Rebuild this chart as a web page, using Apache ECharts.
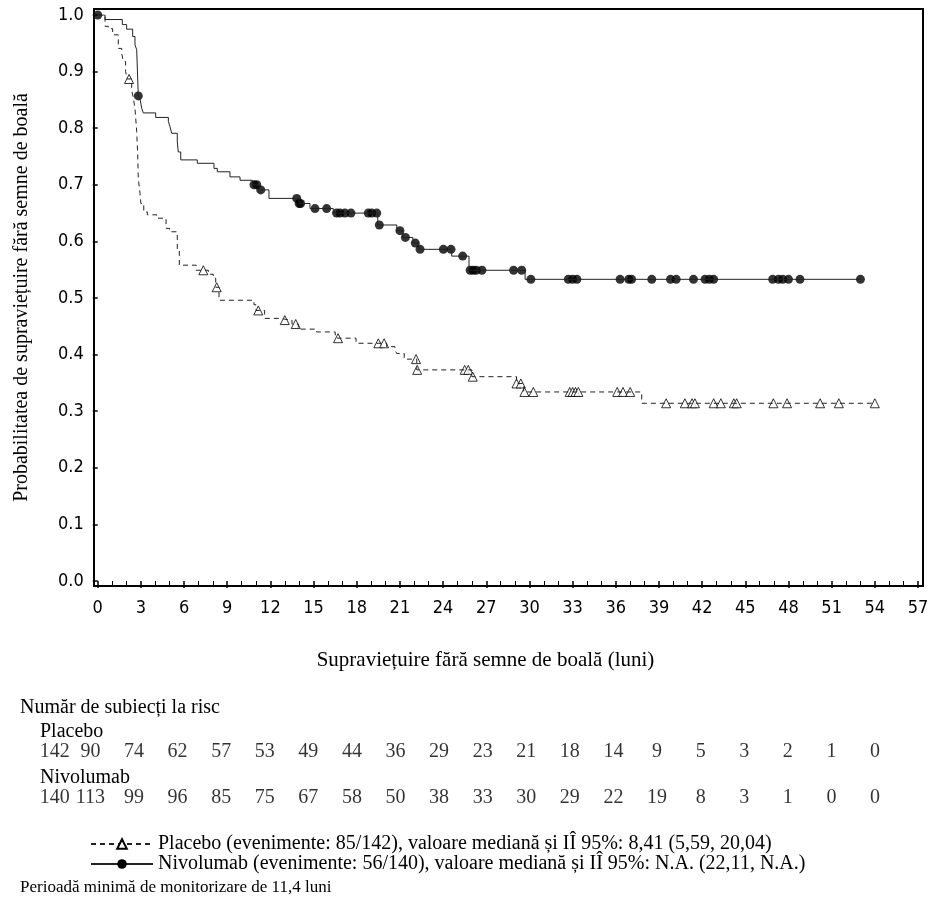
<!DOCTYPE html>
<html>
<head>
<meta charset="utf-8">
<script src="https://cdn.jsdelivr.net/npm/echarts@6/dist/echarts.min.js"></script>
<style>
html, body { margin: 0; padding: 0; background: #fff; }
#chart { width: 946px; height: 910px; }
</style>
</head>
<body>
<div id="chart"></div>
<script>
// Kaplan-Meier steps: [months, probability after the event]
const nivo_steps = [[0,1],[0.51,0.992],[1.71,0.983],[2.01,0.975],[2.43,0.962],[2.59,0.947],[2.71,0.939],[2.82,0.857],[2.95,0.851],[3.06,0.835],[3.17,0.827],[4.03,0.819],[4.91,0.812],[5.02,0.803],[5.14,0.791],[5.53,0.776],[5.60,0.758],[5.77,0.744],[6.92,0.738],[8.08,0.729],[8.31,0.723],[9.19,0.714],[9.89,0.708],[10.75,0.700],[11.2,0.691],[11.9,0.676],[14.0,0.667],[14.75,0.658],[16.37,0.650],[19.46,0.629],[20.78,0.619],[21.2,0.607],[21.9,0.597],[22.3,0.586],[24.6,0.574],[25.8,0.549],[29.7,0.533],[53.0,0.533]]
const placebo_steps = [[0,1],[0.51,0.980],[0.74,0.976],[1.04,0.965],[1.43,0.941],[1.67,0.932],[1.78,0.918],[1.94,0.900],[2.05,0.887],[2.36,0.867],[2.48,0.853],[2.59,0.835],[2.71,0.794],[2.78,0.753],[2.82,0.711],[2.90,0.694],[2.94,0.685],[3.00,0.667],[3.2,0.652],[3.45,0.647],[4.1,0.641],[4.75,0.623],[5.0,0.617],[5.53,0.585],[5.67,0.558],[6.84,0.549],[7.69,0.542],[8.03,0.535],[8.2,0.519],[8.43,0.496],[10.86,0.488],[11.0,0.478],[11.6,0.464],[12.6,0.461],[13.5,0.454],[13.94,0.445],[15.2,0.440],[16.5,0.435],[16.65,0.429],[17.95,0.420],[20.08,0.414],[20.66,0.408],[20.78,0.402],[21.3,0.392],[22.17,0.373],[26.0,0.361],[29.1,0.349],[29.6,0.334],[37.8,0.314],[54.0,0.314]]

// censored subjects
const nivo_censor = [[0,1],[2.82,0.857],[10.86,0.700],[11.05,0.700],[11.33,0.691],[13.83,0.676],[14.0,0.667],[14.1,0.667],[15.1,0.658],[15.91,0.658],[16.6,0.650],[16.84,0.650],[17.18,0.650],[17.6,0.650],[18.8,0.650],[19.04,0.650],[19.39,0.650],[19.57,0.629],[21.0,0.619],[21.38,0.607],[22.07,0.597],[22.4,0.586],[24.02,0.586],[24.55,0.586],[25.36,0.574],[25.88,0.549],[26.09,0.549],[26.3,0.549],[26.7,0.549],[28.9,0.549],[29.46,0.549],[30.1,0.533],[32.7,0.533],[33.0,0.533],[33.3,0.533],[36.3,0.533],[36.9,0.533],[37.1,0.533],[38.5,0.533],[39.8,0.533],[40.2,0.533],[41.4,0.533],[42.2,0.533],[42.5,0.533],[42.8,0.533],[46.9,0.533],[47.3,0.533],[47.6,0.533],[48.0,0.533],[48.8,0.533],[53.0,0.533]]
const placebo_censor = [[2.18,0.887],[7.34,0.549],[8.27,0.519],[11.16,0.478],[13.0,0.461],[13.76,0.454],[16.7,0.429],[19.5,0.420],[19.9,0.420],[22.12,0.392],[22.2,0.373],[25.5,0.373],[25.75,0.373],[26.06,0.361],[29.1,0.349],[29.4,0.349],[29.65,0.334],[30.27,0.334],[32.8,0.334],[33.0,0.334],[33.2,0.334],[33.4,0.334],[36.1,0.334],[36.5,0.334],[37.0,0.334],[39.5,0.314],[40.8,0.314],[41.3,0.314],[41.5,0.314],[42.8,0.314],[43.3,0.314],[44.2,0.314],[44.4,0.314],[46.95,0.314],[47.9,0.314],[50.2,0.314],[51.5,0.314],[54.0,0.314]]

// number at risk
const risk_times = [0,3,6,9,12,15,18,21,24,27,30,33,36,39,42,45,48,51,54,57]
const placebo_risk = [142,90,74,62,57,53,49,44,36,29,23,21,18,14,9,5,3,2,1,0]
const nivo_risk = [140,113,99,96,85,75,67,58,50,38,33,30,29,22,19,8,3,1,0,0]

const placebo_name = 'Placebo (evenimente: 85/142), valoare mediană și IÎ 95%: 8,41 (5,59, 20,04)'
const nivo_name = 'Nivolumab (evenimente: 56/140), valoare mediană și IÎ 95%: N.A. (22,11, N.A.)'

const serif = 'Liberation Serif'
const sans = 'DejaVu Sans Condensed, DejaVu Sans'

function riskRow(counts, row) {
    let out = []
    for (let i = 0; i < risk_times.length; i++) {
        out.push([risk_times[i], row, counts[i]])
    }
    return out
}

function riskSeries(counts, row) {
    return {
        type: 'scatter',
        xAxisIndex: 2,
        yAxisIndex: 2,
        data: riskRow(counts, row),
        symbolSize: 1,
        itemStyle: {color: 'rgba(0,0,0,0)'},
        silent: true,
        label: {
            show: true,
            position: 'inside',
            formatter: function (p) { return p.value[2] },
            color: '#000',
            fontFamily: serif,
            fontSize: 20
        },
        labelLayout: function (params) {
            // first column is left aligned under the row title
            if (params.dataIndex === 0) {
                return {dx: params.labelRect.width / 2 - 7}
            }
            return {}
        }
    }
}

let option = {
    backgroundColor: '#fff',
    animation: false,
    title: [
        {text: 'Număr de subiecți la risc', left: 15, top: 693, textStyle: {fontFamily: serif, fontSize: 20, fontWeight: 'normal', color: '#000'}},
        {text: 'Placebo', left: 35, top: 717, textStyle: {fontFamily: serif, fontSize: 20, fontWeight: 'normal', color: '#000'}},
        {text: 'Nivolumab', left: 35, top: 763, textStyle: {fontFamily: serif, fontSize: 20, fontWeight: 'normal', color: '#000'}},
        {text: 'Perioadă minimă de monitorizare de 11,4 luni', left: 15, top: 874, textStyle: {fontFamily: serif, fontSize: 17, fontWeight: 'normal', color: '#000'}}
    ],
    legend: {
        orient: 'vertical',
        left: 85,
        top: 829,
        itemWidth: 62,
        itemHeight: 12,
        itemGap: 0,
        selectedMode: false,
        data: [placebo_name, nivo_name],
        textStyle: {fontFamily: serif, fontSize: 20, color: '#000'}
    },
    grid: [
        {left: 97.7, right: 28, top: 15, bottom: 329},
        {left: 94, right: 23, top: 9, bottom: 324, show: true, borderColor: '#000', borderWidth: 2, backgroundColor: 'transparent'},
        {left: 46.8, right: 71, top: 752, bottom: 112}
    ],
    xAxis: [
        {
            type: 'value', gridIndex: 0, min: 0, max: 57, interval: 3, offset: 5,
            axisLine: {show: false},
            axisTick: {show: true, length: 7, lineStyle: {color: '#000', width: 1.5}},
            minorTick: {show: true, splitNumber: 3, length: 4, lineStyle: {color: '#000', width: 1}},
            axisLabel: {fontFamily: sans, fontSize: 18, color: '#000', margin: 13},
            splitLine: {show: false}
        },
        {
            type: 'value', gridIndex: 1, min: 0, max: 1, show: true,
            axisLine: {show: false}, axisTick: {show: false}, axisLabel: {show: false}, splitLine: {show: false},
            name: 'Supraviețuire fără semne de boală (luni)', nameLocation: 'middle', nameGap: 64,
            nameTextStyle: {fontFamily: serif, fontSize: 21, color: '#000', padding: [0, 46, 0, 0]}
        },
        {type: 'value', gridIndex: 2, min: 0, max: 57, show: false}
    ],
    yAxis: [
        {
            type: 'value', gridIndex: 0, min: 0, max: 1, interval: 0.1, offset: 4,
            axisLine: {show: false},
            axisTick: {show: true, length: 5, lineStyle: {color: '#000', width: 1.5}},
            axisLabel: {fontFamily: sans, fontSize: 18, color: '#000', margin: 10, formatter: function (v) { return v.toFixed(1) }},
            splitLine: {show: false}
        },
        {
            type: 'value', gridIndex: 1, min: 0, max: 1, show: true,
            axisLine: {show: false}, axisTick: {show: false}, axisLabel: {show: false}, splitLine: {show: false},
            name: 'Probabilitatea de supraviețuire fără semne de boală', nameLocation: 'middle', nameGap: 62, nameRotate: 90,
            nameTextStyle: {fontFamily: serif, fontSize: 20, color: '#000'}
        },
        {type: 'value', gridIndex: 2, min: 0, max: 1, inverse: true, show: false}
    ],
    series: [
        {
            name: placebo_name,
            type: 'line',
            xAxisIndex: 0, yAxisIndex: 0,
            data: placebo_steps,
            step: 'end',
            showSymbol: false,
            symbol: 'triangle',
            symbolSize: 9,
            itemStyle: {color: '#fff', borderColor: '#000', borderWidth: 1},
            lineStyle: {color: '#222', width: 1, type: [5, 4]},
            silent: true
        },
        {
            name: nivo_name,
            type: 'line',
            xAxisIndex: 0, yAxisIndex: 0,
            data: nivo_steps,
            step: 'end',
            showSymbol: false,
            symbol: 'circle',
            symbolSize: 9,
            itemStyle: {color: '#000'},
            lineStyle: {color: '#222', width: 1},
            silent: true
        },
        {
            name: 'placebo censored',
            type: 'scatter',
            xAxisIndex: 0, yAxisIndex: 0,
            data: placebo_censor,
            symbol: 'triangle',
            symbolSize: 9,
            itemStyle: {color: '#fff', borderColor: '#000', borderWidth: 1},
            silent: true
        },
        {
            name: 'nivolumab censored',
            type: 'scatter',
            xAxisIndex: 0, yAxisIndex: 0,
            data: nivo_censor,
            symbol: 'circle',
            symbolSize: 9,
            itemStyle: {color: '#000'},
            silent: true
        },
        riskSeries(placebo_risk, 0),
        riskSeries(nivo_risk, 1)
    ]
}

const dom = document.getElementById('chart')
const myChart = echarts.init(dom, null, {renderer: 'canvas'})
myChart.setOption(option)
</script>
</body>
</html>
